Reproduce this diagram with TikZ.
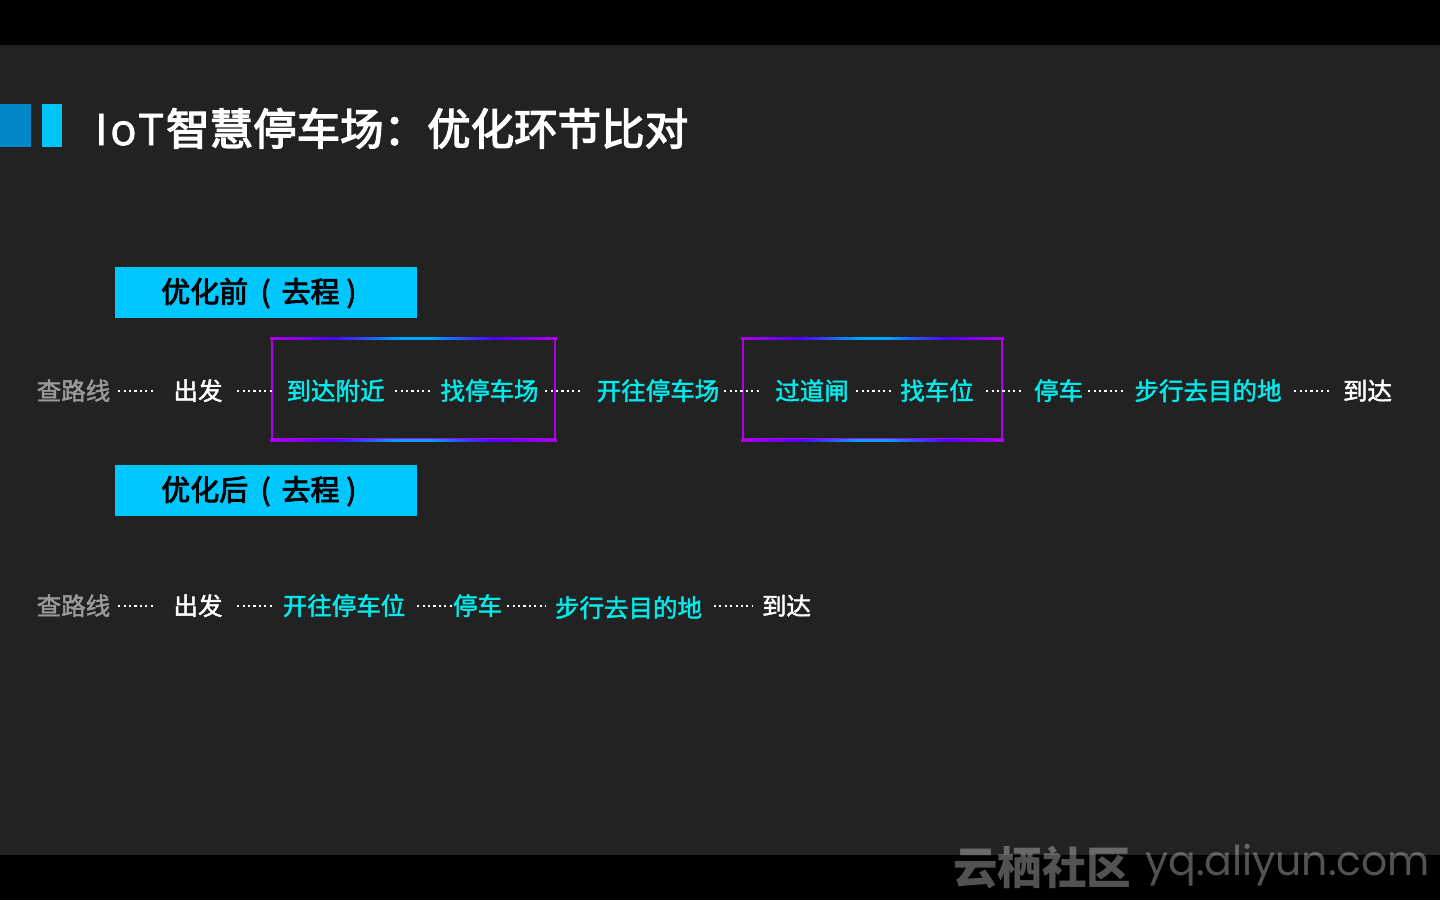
\documentclass[tikz,border=0pt]{standalone}
\usepackage{fontspec}
\setmainfont{Noto Sans CJK SC}
\newfontfamily\cjkmed{Noto Sans CJK SC}[FakeBold=3]
\newfontfamily\cjkrow{Noto Sans CJK SC}[FakeBold=1.8]
\newfontfamily\latinfont{Open Sans}[FakeBold=2]
\newfontfamily\wmfont{Poppins}
\definecolor{bg}{HTML}{222222}
\definecolor{sqdark}{HTML}{0088C8}
\definecolor{sqlight}{HTML}{00C4F8}
\definecolor{hdrblue}{HTML}{00C8FF}
\definecolor{cyantx}{HTML}{00EBEB}
\definecolor{graytx}{HTML}{9A9A9A}
\definecolor{edgemag}{HTML}{B000E8}
\definecolor{edgevio}{HTML}{5000FF}
\definecolor{edgeblue}{HTML}{00A0FF}
\pgfdeclarehorizontalshading{boxedge}{100bp}{color(0bp)=(edgemag); color(25bp)=(edgemag); color(36bp)=(edgevio); color(47bp)=(edgeblue); color(53bp)=(edgeblue); color(64bp)=(edgevio); color(75bp)=(edgemag); color(100bp)=(edgemag)}
\tikzset{
  rowtext/.style={inner sep=0, text height=20bp, text depth=2bp, font=\cjkrow\fontsize{24.5bp}{26bp}\selectfont},
  cy/.style={rowtext, text=cyantx},
  wh/.style={rowtext, text=white},
  gr/.style={rowtext, text=graytx},
  dotline/.style={draw=white, line width=2.1bp, dash pattern=on 2.1bp off 3.3bp},
  hdr/.style={fill=hdrblue, minimum width=302bp, minimum height=51bp, inner sep=0, text height=24bp, text depth=4bp, text=black, font=\cjkmed\fontsize{29bp}{31bp}\selectfont},
  hlbox/.style={draw=edgemag, line width=2bp, minimum height=100bp, inner sep=0},
}
\newcommand{\hdrtext}[1]{#1\kern12.5bp(\kern11bp去程\kern7bp)\kern14.4bp}
\begin{document}
\begin{tikzpicture}[x=1bp,y=-1bp]
\useasboundingbox (0,0) rectangle (1440,900);
\fill[bg] (0,0) rectangle (1440,900);
\fill[black] (0,0) rectangle (1440,45);
\fill[black] (0,855) rectangle (1440,900);
% title
\fill[sqdark] (0,104) rectangle (31,147);
\fill[sqlight] (42,104) rectangle (62,147);
\node[anchor=base west, inner sep=0, text=white, font=\cjkmed\fontsize{43.5bp}{45bp}\selectfont] (title) at (95,145) {{\latinfont I\kern3bp o\kern2.5bp T\kern3bp}智慧停车场：优化环节比对};
% headers
\node[hdr] (h1) at (266,292.5) {\hdrtext{优化前}};
\node[hdr] (h2) at (266,490.5) {\hdrtext{优化后}};
% highlight boxes
\node[hlbox, minimum width=283bp] (box1) at (413.5,389) {};
\node[hlbox, minimum width=259bp] (box2) at (872.5,389) {};
\foreach \b in {box1,box2}{
  \shade[shading=boxedge] ([shift={(-1,-1)}]\b.north west) rectangle ([shift={(1,1)}]\b.north east);
  \shade[shading=boxedge] ([shift={(-1,-1)}]\b.south west) rectangle ([shift={(1,1)}]\b.south east);
}
% row 1
\node[gr] (q1) at (73.5,391) {查路线};
\node[wh] (c1) at (198,391) {出发};
\node[cy] (a1) at (335.5,391) {到达附近};
\node[cy] (b1) at (489.5,391) {找停车场};
\node[cy] (k1) at (658,391) {开往停车场};
\node[cy] (g1) at (812,391) {过道闸};
\node[cy] (z1) at (937,391) {找车位};
\node[cy] (t1) at (1058.5,391) {停车};
\node[cy] (w1) at (1208,391) {步行去目的地};
\node[wh] (d1) at (1367.5,391) {到达};
\draw[dotline, shorten <=7.75bp, shorten >=18.5bp] (q1.east) -- (c1.west);
\draw[dotline, shorten <=14.5bp, shorten >=13.5bp] (c1.east) -- (a1.west);
\draw[dotline, shorten <=10.5bp, shorten >=8.5bp] (a1.east) -- (b1.west);
\draw[dotline, shorten <=6.5bp, shorten >=13.75bp] (b1.east) -- (k1.west);
\draw[dotline, shorten <=4.75bp, shorten >=15.25bp] (k1.east) -- (g1.west);
\draw[dotline, shorten <=7.25bp, shorten >=7.25bp] (g1.east) -- (z1.west);
\draw[dotline, shorten <=12.25bp, shorten >=10bp] (z1.east) -- (t1.west);
\draw[dotline, shorten <=5bp, shorten >=9.5bp] (t1.east) -- (w1.west);
\draw[dotline, shorten <=12.5bp, shorten >=11bp] (w1.east) -- (d1.west);
% row 2
\node[gr] (q2) at (73.5,606) {查路线};
\node[wh] (c2) at (198,606) {出发};
\node[cy] (k2) at (344,606) {开往停车位};
\node[cy] (t2) at (477.5,606) {停车};
\node[cy, text height=22bp, text depth=0bp] (w2) at (628.5,606) {步行去目的地};
\node[wh] (d2) at (786.5,606) {到达};
\draw[dotline, shorten <=7.75bp, shorten >=18.5bp] (q2.east) -- (c2.west);
\draw[dotline, shorten <=14.5bp, shorten >=8.75bp] (c2.east) -- (k2.west);
\draw[dotline, shorten <=11.75bp, shorten >=0bp] (k2.east) -- (t2.west);
\draw[dotline, shorten <=5bp, shorten >=9.75bp] (t2.east) -- (w2.west);
\draw[dotline, shorten <=11.75bp, shorten >=10bp] (w2.east) -- (d2.west);
% watermark
\node[anchor=base west, inner sep=0, text=white, text opacity=0.32, font=\fontsize{44.5bp}{46bp}\selectfont\bfseries] (wm1) at (953,884) {云栖社区};
\node[anchor=base west, inner sep=0, text=white, text opacity=0.32, font=\wmfont\fontsize{41bp}{43bp}\selectfont] (wm2) at (1145,875) {yq.aliyun.com};
\end{tikzpicture}
\end{document}
